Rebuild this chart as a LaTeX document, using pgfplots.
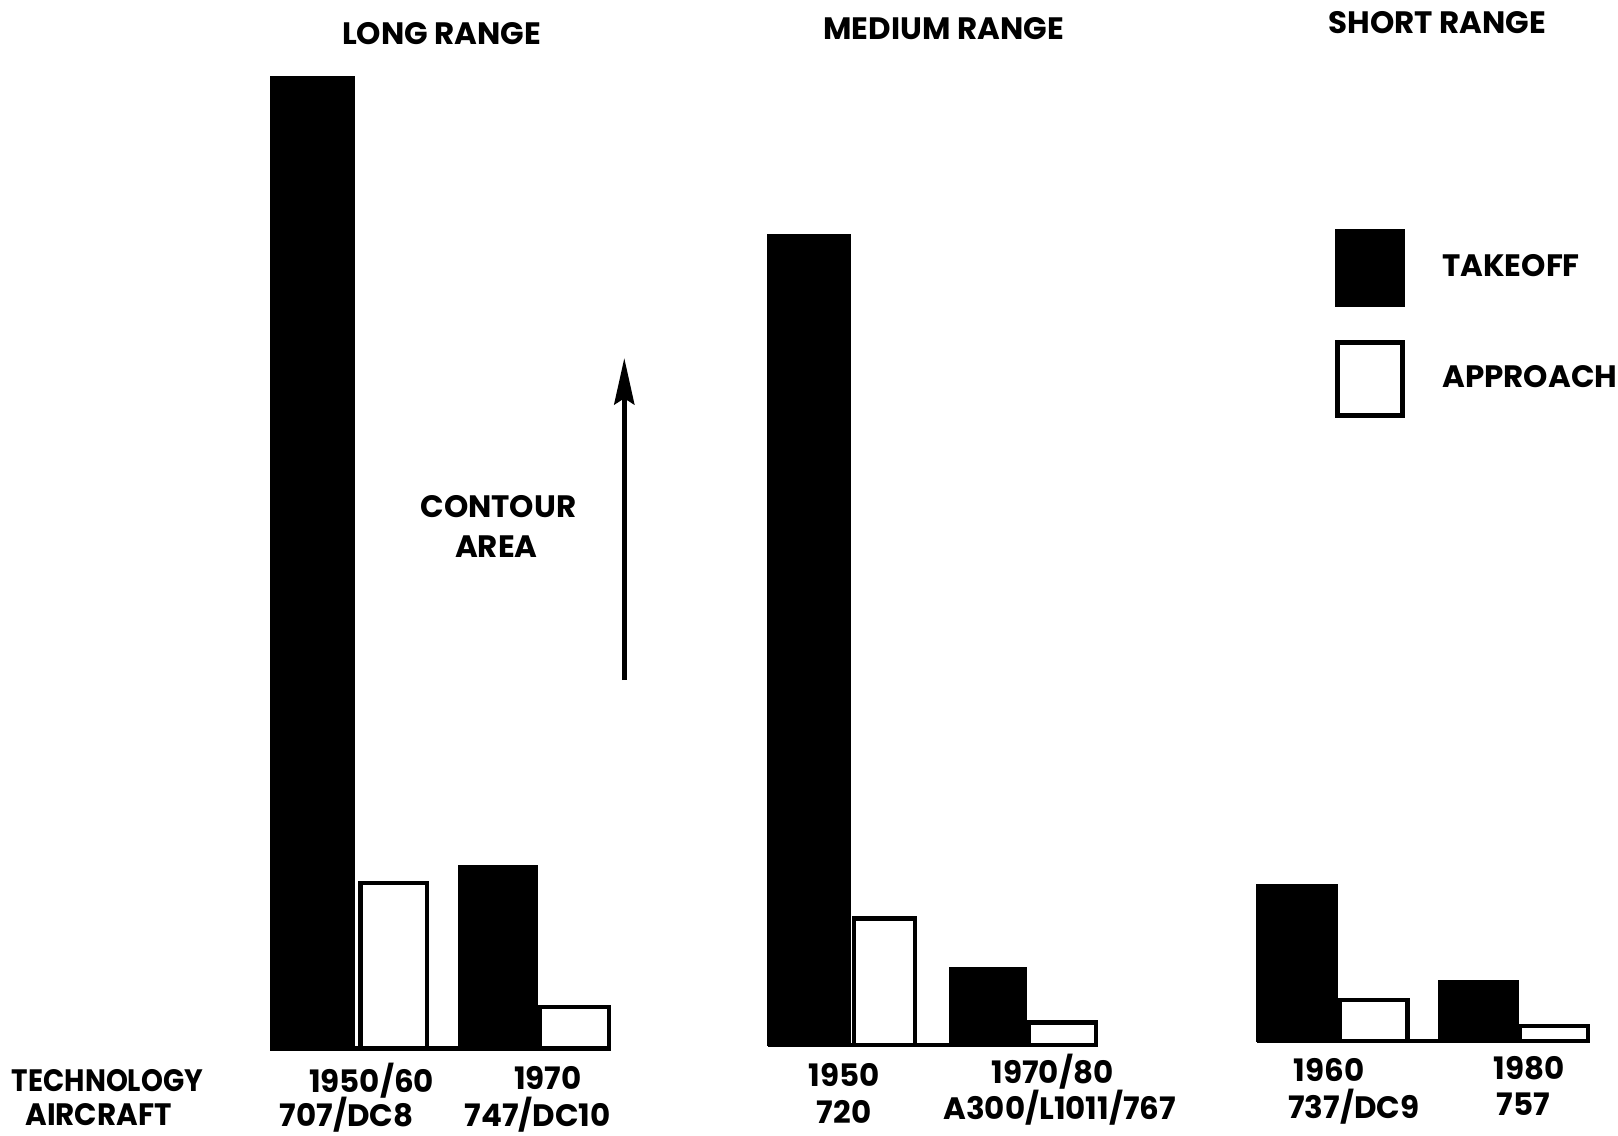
\documentclass[border=0pt]{standalone}
\usepackage{fontspec}
\setmainfont{Poppins}
\usepackage{pgfplots}
\pgfplotsset{compat=1.18}
\usetikzlibrary{arrows.meta}
\begin{document}
\begin{tikzpicture}[font=\bfseries\fontsize{10}{12}\selectfont]
\useasboundingbox (0,0) rectangle (522.667pt,366.667pt);
\pgfplotsset{
  grp/.style={anchor=south west, x=0.333333pt, y=0.333333pt,
    xmin=0, xmax=1568, ymin=0, hide axis, clip=false, enlargelimits=false},
  tko/.style={ybar, bar shift=0pt, fill=black, draw=black, line width=0.4pt},
  apr/.style={ybar, bar shift=0pt, fill=white, draw=black, line width=1.4pt},
  base/.style={black, line width=1.4pt, forget plot},
}
% ---------------- LONG RANGE ----------------
\begin{axis}[grp, at={(0pt,28pt)}, ymax=1016]
\addplot[tko, bar width=81, forget plot] coordinates {(302.5,942)};
\addplot[apr, bar width=64, forget plot] coordinates {(381.5,160)};
\addplot[tko, bar width=77, forget plot] coordinates {(482.5,177)};
\addplot[apr, bar width=67, forget plot] coordinates {(556.5,40)};
\addplot[base] coordinates {(262,0) (592,0)};
\node at (axis cs:428,983) {LONG RANGE};
\node at (axis cs:360,-31) {1950/60};
\node at (axis cs:336,-64) {707/DC8};
\node at (axis cs:531,-29) {1970};
\node at (axis cs:521,-64) {747/DC10};
\node[anchor=west, inner sep=0pt] at (axis cs:11,-31) {\scalebox{0.9}[1]{TECHNOLOGY}};
\node[anchor=west, inner sep=0pt] at (axis cs:24,-64) {\scalebox{0.95}[1]{AIRCRAFT}};
\draw[line width=1.5pt, -{Stealth[length=15pt,width=6.5pt,inset=2pt]}] (axis cs:605,357) -- (axis cs:605,669);
\node at (axis cs:483,525) {CONTOUR};
\node at (axis cs:481,486) {AREA};
\end{axis}
% ---------------- MEDIUM RANGE ----------------
\begin{axis}[grp, at={(0pt,29pt)}, ymax=1013]
\addplot[tko, bar width=80, forget plot] coordinates {(784,786)};
\addplot[apr, bar width=59, forget plot] coordinates {(857,123)};
\addplot[tko, bar width=75, forget plot] coordinates {(957.5,75)};
\addplot[apr, bar width=65, forget plot] coordinates {(1029.5,22)};
\addplot[base] coordinates {(744,0) (1064,0)};
\node at (axis cs:914.5,985) {MEDIUM RANGE};
\node at (axis cs:818,-29) {1950};
\node at (axis cs:818,-65) {720};
\node at (axis cs:1020,-26) {1970/80};
\node at (axis cs:1027,-60) {A300/L1011/767};
\end{axis}
% ---------------- SHORT RANGE ----------------
\begin{axis}[grp, at={(0pt,30.333pt)}, ymax=1009,
  legend style={at={(0.8246,0.7810)}, anchor=north west, draw=none, fill=none,
    inner sep=0pt, row sep=10.7pt, column sep=12pt,
    nodes={inner sep=0pt, font=\bfseries\fontsize{10}{12}\selectfont}},
  legend cell align=left]
\addplot[tko, bar width=78,
  legend image code/.code={\draw[fill=black,draw=black] (0pt,-12.5pt) rectangle (22.3pt,12.5pt);}]
  coordinates {(1257,152)};
\addlegendentry{TAKEOFF}
\addplot[apr, bar width=66,
  legend image code/.code={\draw[fill=white,draw=black,line width=1.4pt] (0.7pt,-11.8pt) rectangle (21.6pt,11.8pt);}]
  coordinates {(1331,40)};
\addlegendentry{APPROACH}
\addplot[tko, bar width=77, forget plot] coordinates {(1433,59)};
\addplot[apr, bar width=66, forget plot] coordinates {(1506,15)};
\addplot[base] coordinates {(1218,0) (1541,0)};
\node at (axis cs:1393,987) {SHORT RANGE};
\node at (axis cs:1288,-28) {1960};
\node at (axis cs:1312,-63) {737/DC9};
\node at (axis cs:1482,-26) {1980};
\node at (axis cs:1476,-61) {757};
\end{axis}
\end{tikzpicture}
\end{document}
